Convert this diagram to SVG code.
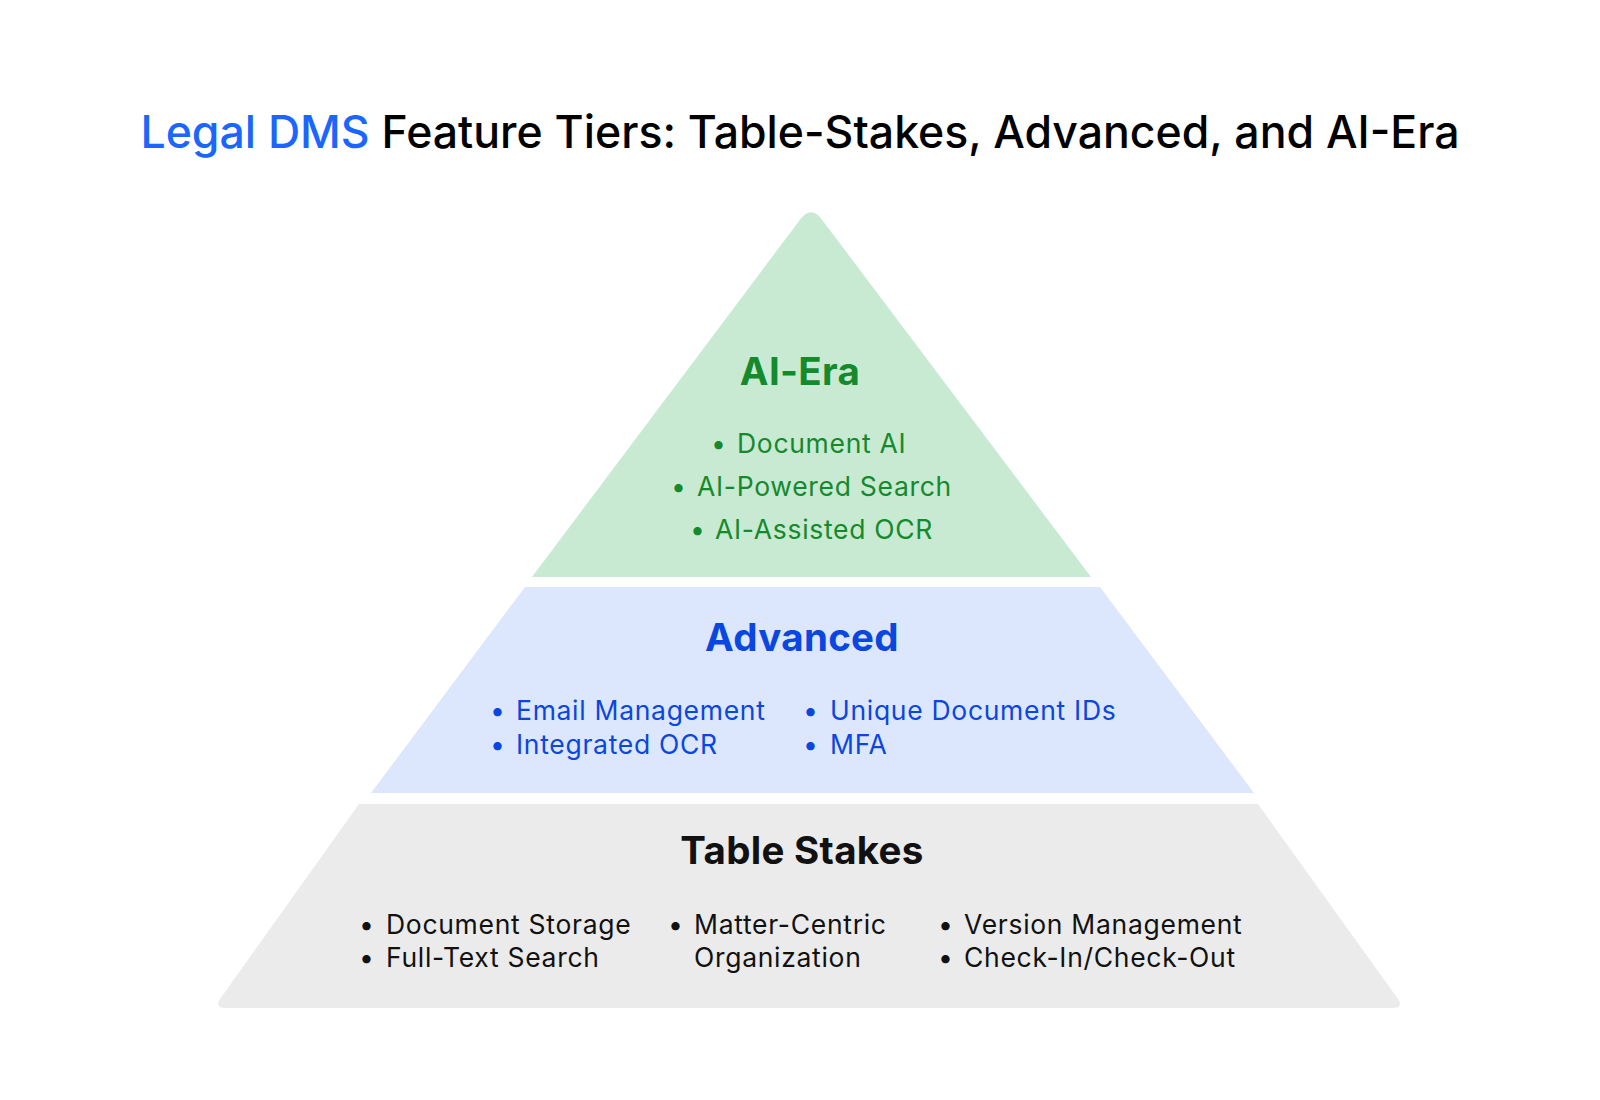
<svg xmlns="http://www.w3.org/2000/svg" width="1600" height="1100" viewBox="0 0 1600 1100">
<style>
text{font-family:Inter,"Open Sans","Liberation Sans",sans-serif}
.title{font-size:44.6px;font-weight:500;fill:#000}
.tb{fill:#1a66ff}
.h{font-size:38.5px;font-weight:700;text-anchor:middle;letter-spacing:0.3px}
.b{font-size:26.5px;font-weight:400;letter-spacing:0.7px}
.g{fill:#148a2c}
.bl{fill:#0a47e0}
.k{fill:#111}
</style>
<rect width="1600" height="1100" fill="#fff"/>
<text class="title" x="800" y="148" text-anchor="middle"><tspan class="tb">Legal DMS</tspan> Feature Tiers: Table-Stakes, Advanced, and AI-Era</text>
<g id="tier-ai">
<path d="M532 577 L800.2 219.4 Q811 205 821.8 219.4 L1091 577 Z" fill="#c8e9d2"/>
<text class="h g" x="800" y="385">AI-Era</text>
<text class="b g" x="711" y="453">•</text><text class="b g" x="737" y="453">Document AI</text>
<text class="b g" x="671" y="496">•</text><text class="b g" x="697" y="496">AI-Powered Search</text>
<text class="b g" x="690" y="539">•</text><text class="b g" x="715" y="539">AI-Assisted OCR</text>
</g>
<g id="tier-advanced">
<path d="M525 587 L1100 587 L1254 793 L371 793 Z" fill="#dce6fd"/>
<text class="h bl" x="802" y="651">Advanced</text>
<text class="b bl" x="490" y="720">•</text><text class="b bl" x="516" y="720">Email Management</text>
<text class="b bl" x="490" y="754">•</text><text class="b bl" x="516" y="754">Integrated OCR</text>
<text class="b bl" x="803" y="720">•</text><text class="b bl" x="830" y="720">Unique Document IDs</text>
<text class="b bl" x="803" y="754">•</text><text class="b bl" x="830" y="754">MFA</text>
</g>
<g id="tier-table-stakes">
<path d="M359 804 L1258 804 L1398 999 Q1404 1008 1392 1008 L226 1008 Q214 1008 220 999 Z" fill="#ebebeb"/>
<text class="h k" x="802" y="864">Table Stakes</text>
<text class="b k" x="359" y="934">•</text><text class="b k" x="386" y="934">Document Storage</text>
<text class="b k" x="359" y="967">•</text><text class="b k" x="386" y="967">Full-Text Search</text>
<text class="b k" x="668" y="934">•</text><text class="b k" x="694" y="934">Matter-Centric</text>
<text class="b k" x="694" y="967">Organization</text>
<text class="b k" x="938" y="934">•</text><text class="b k" x="964" y="934">Version Management</text>
<text class="b k" x="938" y="967">•</text><text class="b k" x="964" y="967">Check-In/Check-Out</text>
</g>
<g id="connectors"/>
</svg>
